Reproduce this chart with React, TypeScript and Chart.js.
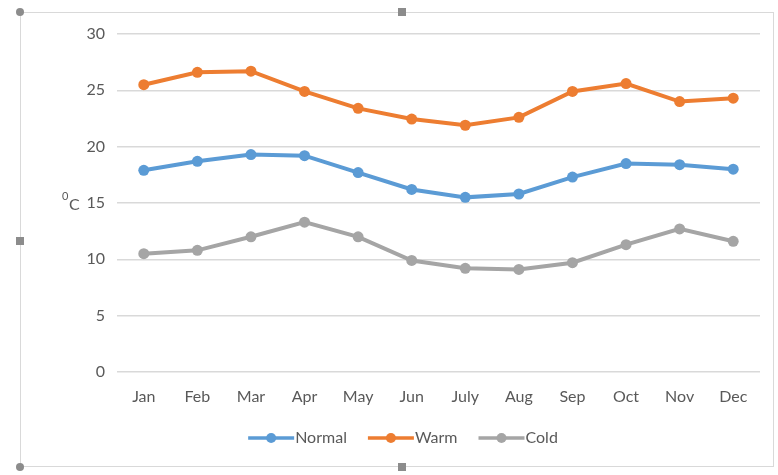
import React, { useEffect, useRef } from "react";
import { Chart, registerables } from "chart.js";

Chart.register(...registerables);

const months = ["Jan", "Feb", "Mar", "Apr", "May", "Jun", "July", "Aug", "Sep", "Oct", "Nov", "Dec"];
const normal = [17.9, 18.7, 19.3, 19.2, 17.7, 16.2, 15.5, 15.8, 17.3, 18.5, 18.4, 18.0];
const warm = [25.5, 26.6, 26.7, 24.9, 23.4, 22.45, 21.9, 22.6, 24.9, 25.6, 24.0, 24.3];
const cold = [10.5, 10.8, 12.0, 13.3, 12.0, 9.9, 9.2, 9.1, 9.7, 11.3, 12.7, 11.6];
const seriesNames = ["Normal", "Warm", "Cold"];
const seriesColors = ["#5B9BD5", "#ED7D31", "#A5A5A5"];
const yTitle = ["0", "C"];

const FONT = "Lato, 'Open Sans', sans-serif";
const TEXT = "#595959";

const extrasPlugin = {
  id: "extras",
  afterDraw(chart: any) {
    const ctx = chart.ctx;
    const y = chart.scales.y;
    ctx.save();
    ctx.fillStyle = TEXT;
    ctx.textBaseline = "alphabetic";
    ctx.textAlign = "left";
    const py = y.getPixelForValue(15);
    ctx.font = `11px ${FONT}`;
    ctx.fillText(yTitle[0], 62, py - 3);
    ctx.font = `16px ${FONT}`;
    ctx.fillText(yTitle[1], 69, py + 7);

    ctx.font = `16px ${FONT}`;
    const lineW = 46;
    const gapText = 1;
    const gapItem = 21;
    const widths = chart.data.datasets.map((d: any) => ctx.measureText(d.label).width);
    let total = 0;
    widths.forEach((w: number, i: number) => {
      total += lineW + gapText + w + (i < widths.length - 1 ? gapItem : 0);
    });
    let x = 403 - total / 2;
    const ly = 438;
    chart.data.datasets.forEach((d: any, i: number) => {
      ctx.strokeStyle = d.borderColor;
      ctx.lineWidth = 3.5;
      ctx.lineCap = "butt";
      ctx.beginPath();
      ctx.moveTo(x, ly);
      ctx.lineTo(x + lineW, ly);
      ctx.stroke();
      ctx.fillStyle = d.borderColor;
      ctx.beginPath();
      ctx.arc(x + lineW / 2, ly, 5, 0, Math.PI * 2);
      ctx.fill();
      ctx.fillStyle = TEXT;
      ctx.textBaseline = "middle";
      ctx.fillText(d.label, x + lineW + gapText, ly);
      x += lineW + gapText + widths[i] + gapItem;
    });
    ctx.restore();
  },
};

export default function App() {
  const ref = useRef<HTMLCanvasElement>(null);
  useEffect(() => {
    if (!ref.current) return;
    const data = [normal, warm, cold];
    const chart = new Chart(ref.current, {
      type: "line",
      data: {
        labels: months,
        datasets: data.map((vals, i) => ({
          label: seriesNames[i],
          data: vals,
          borderColor: seriesColors[i],
          backgroundColor: seriesColors[i],
          borderWidth: 4,
          pointRadius: 5.5,
          pointBorderWidth: 0,
          pointBackgroundColor: seriesColors[i],
          tension: 0,
          fill: false,
        })),
      },
      options: {
        animation: false,
        responsive: false,
        maintainAspectRatio: false,
        layout: { padding: { top: 34, right: 18, left: 0, bottom: 0 } },
        plugins: {
          legend: { display: false },
          tooltip: { enabled: false },
          title: { display: false },
        },
        scales: {
          x: {
            offset: true,
            grid: { display: false, drawTicks: false },
            border: { display: false },
            ticks: { color: TEXT, font: { family: FONT, size: 16 }, padding: 15, maxRotation: 0, autoSkip: false },
            afterFit: (s: any) => {
              s.height = 103;
            },
          },
          y: {
            min: 0,
            max: 30,
            grid: { color: "#D9D9D9", lineWidth: 1.5, drawTicks: false },
            border: { display: false },
            ticks: { stepSize: 5, color: TEXT, font: { family: FONT, size: 16 }, padding: 12 },
            afterFit: (s: any) => {
              s.width = 117;
            },
          },
        },
      },
      plugins: [extrasPlugin],
    });
    return () => chart.destroy();
  }, []);

  const handle = (left: number, top: number, round: boolean) => (
    <div
      style={{
        position: "absolute",
        left: left - 4,
        top: top - 4,
        width: 8,
        height: 8,
        background: "#8C8C8C",
        borderRadius: round ? 4 : 0,
      }}
    />
  );

  return (
    <div style={{ position: "absolute", left: 0, top: 0, width: 778, height: 475, background: "#fff", overflow: "hidden" }}>
      <div
        style={{
          position: "absolute",
          left: 20,
          top: 12,
          width: 754,
          height: 455,
          border: "1px solid #D9D9D9",
          boxSizing: "border-box",
        }}
      />
      <canvas ref={ref} width={778} height={475} style={{ position: "absolute", left: 0, top: 0, width: 778, height: 475 }} />
      {handle(20, 12, true)}
      {handle(402, 12, false)}
      {handle(20, 241, false)}
      {handle(20, 467, true)}
      {handle(402, 467, false)}
    </div>
  );
}
